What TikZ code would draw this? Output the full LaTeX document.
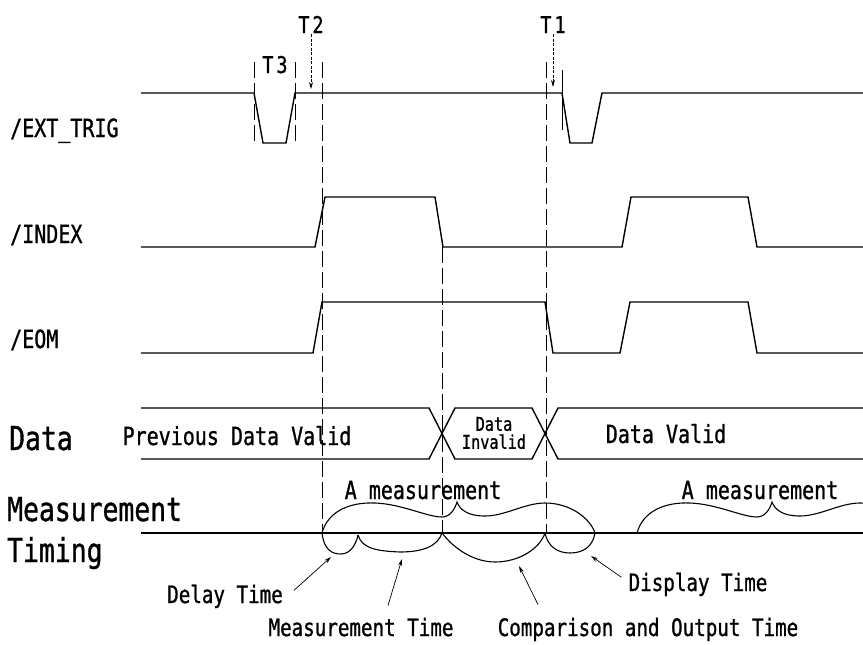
\documentclass[tikz,border=0pt]{standalone}
\usepackage{fontspec}
\newfontfamily\chartfont{DejaVu Sans Mono}[FakeStretch=0.8,FakeBold=1]
\usetikzlibrary{arrows.meta,positioning,calc}

\begin{document}
\begin{tikzpicture}[
      x=1pt,y=-1pt,
      every node/.style={inner sep=1pt,font=\chartfont\fontsize{25}{28}\selectfont},
      big/.style={font=\chartfont\fontsize{33}{36}\selectfont},
      note/.style={font=\chartfont\fontsize{24}{26}\selectfont},
      tiny/.style={font=\chartfont\fontsize{19}{18}\selectfont,align=center},
      tag/.style={font=\chartfont\fontsize{23}{24}\selectfont},
      wave/.style={line width=1.4pt},
      guide/.style={line width=0.8pt,dash pattern=on 16pt off 5pt},
      curve/.style={line width=1.1pt},
      ptr/.style={-{Stealth[length=7pt,width=4pt]},line width=0.7pt},
      >=Stealth
    ]
  \useasboundingbox (0,0) rectangle (863,645);
  \node[anchor=base west] (exttrig) at (9,137) {/EXT\_TRIG};
  \node[anchor=base west] (index) at (9,243) {/INDEX};
  \node[anchor=base west] (eom) at (9,348) {/EOM};
  \node[big,anchor=base west] (data) at (8,450) {Data};
  \node[big,anchor=base west] (meas) at (6,521) {Measurement};
  \node[big,anchor=base west] (timing) at (6,562) {Timing};

  \draw[wave] (141,93) -- (254,93) -- (263,143) -- (286,143) -- (295,93) -- (562,93) -- (570,143) -- (592,143) -- (602,93) -- (863,93);
  \draw[wave] (141,247) -- (315,247) -- (325,197) -- (435,197) -- (443,247) -- (622,247) -- (631,197) -- (748,197) -- (757,247) -- (863,247);
  \draw[wave] (141,353) -- (313,353) -- (322,302) -- (545,302) -- (553,353) -- (620,353) -- (630,302) -- (748,302) -- (757,353) -- (863,353);
  \draw[wave] (141,408) -- (429,408) -- (455,459) -- (532,459) -- (558,408) -- (863,408);
  \draw[wave] (141,459) -- (429,459) -- (455,408) -- (532,408) -- (558,459) -- (863,459);
  \draw[wave] (141,533) -- (863,533);

  \draw[guide] (254,62) -- (254,145);
  \draw[guide] (295,62) -- (295,145);
  \draw[guide] (322,62) -- (322,533);
  \draw[guide] (546,62) -- (546,533);
  \draw[guide] (442,247) -- (442,533);
  \draw[line width=0.8pt] (562,70) -- (562,130);

  \node[tag,anchor=base] (t3) at (275,73) {T\kern3pt3};
  \node[tag,anchor=base] (t2) at (311,33) {T\kern3pt2};
  \node[tag,anchor=base] (t1) at (553,33) {T\kern3pt1};
  \coordinate (t2tip) at (311,89);
  \coordinate (t1tip) at (553,87);
  \draw[ptr,dash pattern=on 3pt off 1.5pt] (t2) -- (t2tip);
  \draw[ptr,dash pattern=on 3pt off 1.5pt] (t1) -- (t1tip);

  \node[anchor=base] (prevvalid) at (237,445) {Previous Data Valid};
  \node[tiny] (invalid) at (494,433) {Data\\Invalid};
  \node[anchor=base] (valid) at (666,443) {Data Valid};

  \foreach \s in {0,315}
    \draw[curve,shift={(322+\s,533)}] (0,0) .. controls (6,-22) and (28,-31) .. (53,-30)
      .. controls (80,-29) and (105,-16) .. (120,-16) .. controls (128,-16) and (133,-24) .. (135,-31)
      .. controls (138,-23) and (146,-17) .. (163,-17) .. controls (183,-17) and (203,-30) .. (223,-30)
      .. controls (248,-30) and (268,-15) .. (273,0);
  \node[anchor=base] (meas1) at (423,499) {A measurement};
  \node[anchor=base] (meas2) at (760,499) {A measurement};

  \draw[curve] (322,533) .. controls (324,550) and (332,554) .. (341,554) .. controls (350,554) and (356,545) .. (358,535);
  \draw[curve] (358,535) .. controls (362,548) and (375,551) .. (400,552) .. controls (425,552) and (438,545) .. (442,533);
  \draw[curve] (442,533) .. controls (455,550) and (475,562) .. (495,562) .. controls (520,562) and (540,548) .. (545,533);
  \draw[curve] (545,533) .. controls (548,547) and (558,553) .. (570,553) .. controls (585,553) and (593,545) .. (595,533);

  \node[note,anchor=base] (delay) at (225,603) {Delay Time};
  \node[note,anchor=base] (meastime) at (361,636) {Measurement Time};
  \node[note,anchor=base] (comp) at (648,636) {Comparison and Output Time};
  \node[note,anchor=base] (disp) at (698,591) {Display Time};
  \coordinate (delaytip) at (331,557);
  \coordinate (meastip) at (402,559);
  \coordinate (comptip) at (519,566);
  \coordinate (disptip) at (591,556);
  \draw[ptr] ($(delay.east)+(10,-6)$) -- (delaytip);
  \draw[ptr] ($(meastime.north)+(27,-11)$) -- (meastip);
  \draw[ptr] ($(comp.north)+(-110,-12)$) -- (comptip);
  \draw[ptr] ($(disp.west)+(-6,-7)$) -- (disptip);
\end{tikzpicture}
\end{document}
